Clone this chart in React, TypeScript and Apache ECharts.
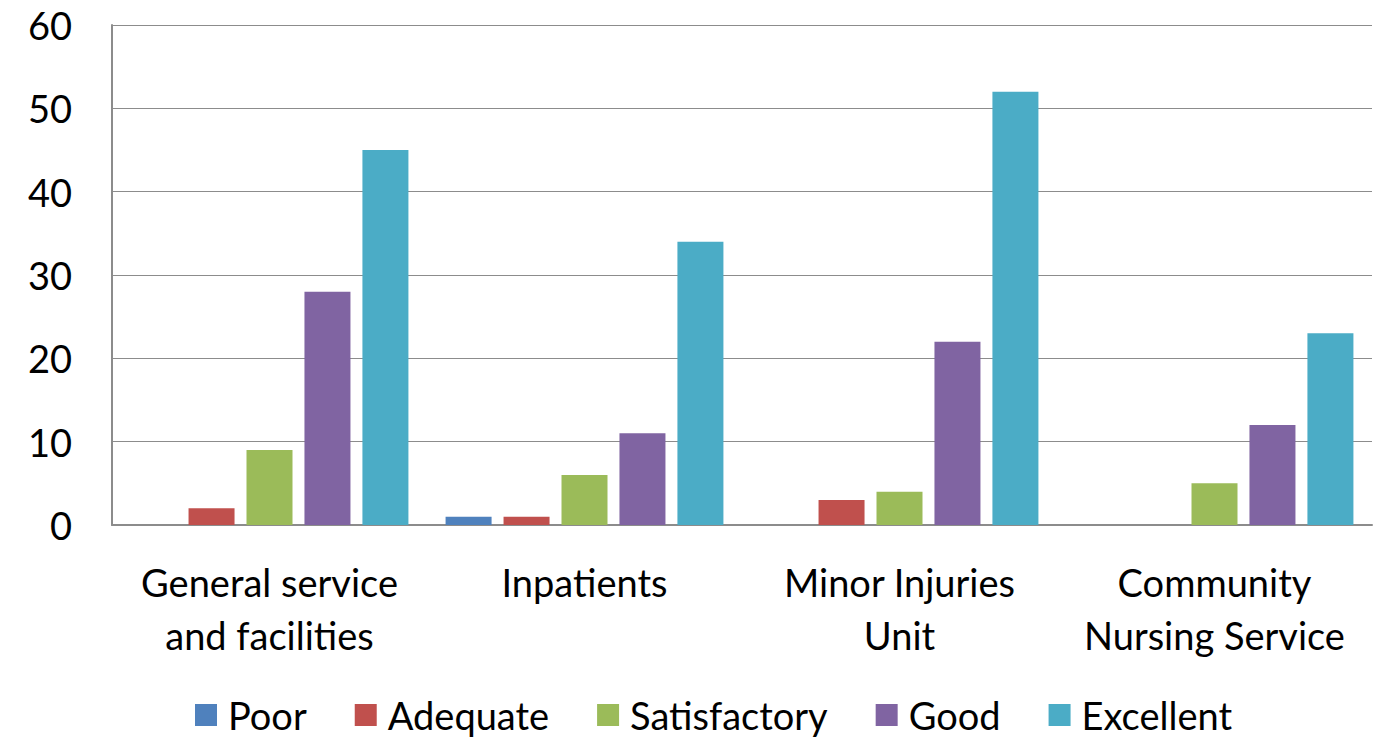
import React, { useEffect, useRef } from "react";
import * as echarts from "echarts";

const categories = [
  "General service\nand facilities",
  "Inpatients",
  "Minor Injuries\nUnit",
  "Community\nNursing Service",
];
const seriesNames = ["Poor", "Adequate", "Satisfactory", "Good", "Excellent"];
const poor = [0, 1, 0, 0];
const adequate = [2, 1, 3, 0];
const satisfactory = [9, 6, 4, 5];
const good = [28, 11, 22, 12];
const excellent = [45, 34, 52, 23];
const colors = ["#4F81BD", "#C0504D", "#9BBB59", "#8064A2", "#4BACC6"];

export default function App() {
  const ref = useRef<HTMLDivElement>(null);
  useEffect(() => {
    if (!ref.current) return;
    const chart = echarts.init(ref.current, null, { renderer: "svg" });
    const data = [poor, adequate, satisfactory, good, excellent];
    const font = "Lato, 'Open Sans', sans-serif";
    chart.setOption({
      animation: false,
      color: colors,
      textStyle: { fontFamily: font },
      grid: { left: 112, right: 14, top: 25, bottom: 212, containLabel: false },
      legend: {
        bottom: -2,
        left: 190,
        itemWidth: 22,
        itemHeight: 22,
        itemGap: 48,
        icon: "rect",
        textStyle: { fontSize: 38, color: "#000", fontFamily: font, padding: [0, 0, 0, 6] },
        data: seriesNames,
      },
      xAxis: {
        type: "category",
        data: categories,
        axisLine: { lineStyle: { color: "#8c8c8c", width: 2 } },
        axisTick: { show: false },
        axisLabel: {
          fontSize: 38,
          color: "#000",
          margin: 30,
          lineHeight: 53,
          interval: 0,
          fontFamily: font,
        },
      },
      yAxis: {
        type: "value",
        min: 0,
        max: 60,
        interval: 10,
        axisLine: { show: true, lineStyle: { color: "#8c8c8c", width: 2 } },
        axisTick: { show: false },
        splitLine: { lineStyle: { color: "#8c8c8c", width: 1 } },
        axisLabel: { fontSize: 38, color: "#000", margin: 40, fontFamily: font },
      },
      series: data.map((d, i) => ({
        name: seriesNames[i],
        type: "bar",
        data: d,
        barWidth: 46,
        barGap: "26%",
        barCategoryGap: "12%",
        itemStyle: { color: colors[i] },
      })),
    });
    return () => chart.dispose();
  }, []);
  return (
    <div
      ref={ref}
      style={{ position: "absolute", left: 0, top: 0, width: 1386, height: 737, background: "#fff" }}
    />
  );
}
